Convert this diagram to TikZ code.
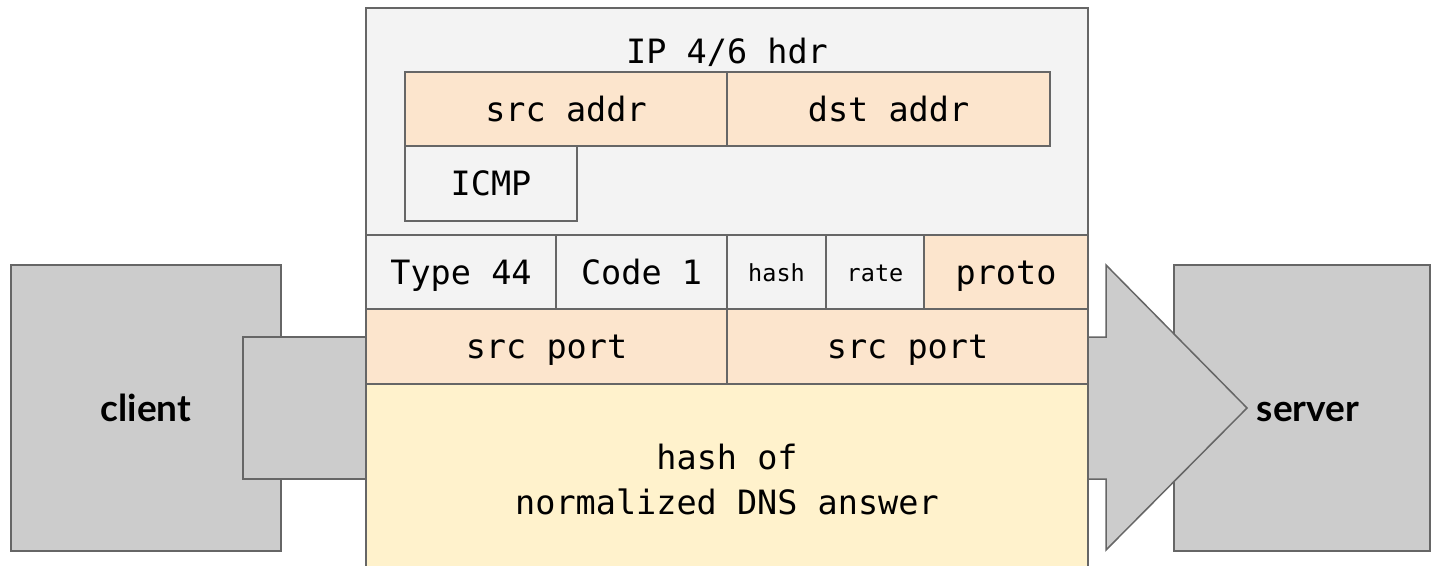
\documentclass[tikz,border=0pt]{standalone}
\usepackage{fontspec}
\setmainfont{Lato}
\setmonofont{DejaVu Sans Mono}
\usetikzlibrary{positioning}
\definecolor{hdrgray}{HTML}{F3F3F3}
\definecolor{peach}{HTML}{FCE5CD}
\definecolor{answer}{HTML}{FFF2CC}
\definecolor{hostgray}{HTML}{CCCCCC}
\definecolor{edgegray}{HTML}{666666}
\tikzstyle{field} = [rectangle, draw=edgegray, line width=1.5pt, inner sep=0pt, outer sep=0pt, text centered, text height=24.4pt, text depth=0pt, font=\ttfamily\fontsize{33.5}{45}\selectfont]
\tikzstyle{plain} = [field, fill=hdrgray]
\tikzstyle{addr} = [field, fill=peach]
\tikzstyle{small} = [plain, text height=18pt, font=\ttfamily\fontsize{23.5}{26}\selectfont]
\tikzstyle{host} = [field, fill=hostgray, text height=27pt, font=\bfseries\fontsize{37}{44}\selectfont]

\begin{document}
\begin{tikzpicture}[x=1pt, y=-1pt]
            \useasboundingbox (0,0) rectangle (1431,565);
            % client side
            \node (client) [host, anchor=north west, minimum width=270pt, minimum height=286pt] at (11,265) {client};
            \node (tab) [host, anchor=north west, minimum width=123pt, minimum height=142pt] at (243,337) {};
            % server side
            \node (server) [host, anchor=north west, minimum width=256pt, minimum height=286pt] at (1174,265) {};
            \draw [draw=edgegray, fill=hostgray, line width=1.5pt, line join=miter]
                (1088,337) -- (1106,337) -- (1106,265) -- (1247,408) -- (1106,550) -- (1106,479) -- (1088,479);
            \node (serverlabel) [inner sep=0pt, text height=27pt, text depth=0pt, font=\bfseries\fontsize{37}{44}\selectfont] at (1308,408) {server};
            % packet
            \node (iphdr) [plain, anchor=north west, minimum width=722pt, minimum height=227pt] at (366,8) {};
            \node (hdrtitle) [inner sep=0pt, text height=24.4pt, text depth=0pt, font=\ttfamily\fontsize{33.5}{45}\selectfont] at (727,51) {IP 4/6 hdr};
            \node (srcaddr) [addr, anchor=north west, minimum width=322pt, minimum height=74pt] at (405,72) {src addr};
            \node (dstaddr) [addr, right=0pt of srcaddr, minimum width=323pt, minimum height=74pt] {dst addr};
            \node (icmp) [plain, below=0pt of srcaddr.south west, anchor=north west, minimum width=172pt, minimum height=75pt] {ICMP};
            \node (type) [plain, anchor=north west, minimum width=190pt, minimum height=74pt] at (366,235) {Type 44};
            \node (code) [plain, right=0pt of type, minimum width=171pt, minimum height=74pt] {Code 1};
            \node (hash) [small, right=0pt of code, minimum width=99pt, minimum height=74pt] {hash};
            \node (rate) [small, right=0pt of hash, minimum width=98pt, minimum height=74pt] {rate};
            \node (proto) [addr, right=0pt of rate, minimum width=164pt, minimum height=74pt] {proto};
            \node (srcport) [addr, anchor=north west, minimum width=361pt, minimum height=75pt] at (366,309) {src port};
            \node (dstport) [addr, right=0pt of srcport, minimum width=361pt, minimum height=75pt] {src port};
            \node (dns) [field, fill=answer, anchor=north west, align=center, text height=, text depth=, minimum width=722pt, minimum height=192pt] at (366,384) {hash of\\normalized DNS answer};
        \end{tikzpicture}
\end{document}
